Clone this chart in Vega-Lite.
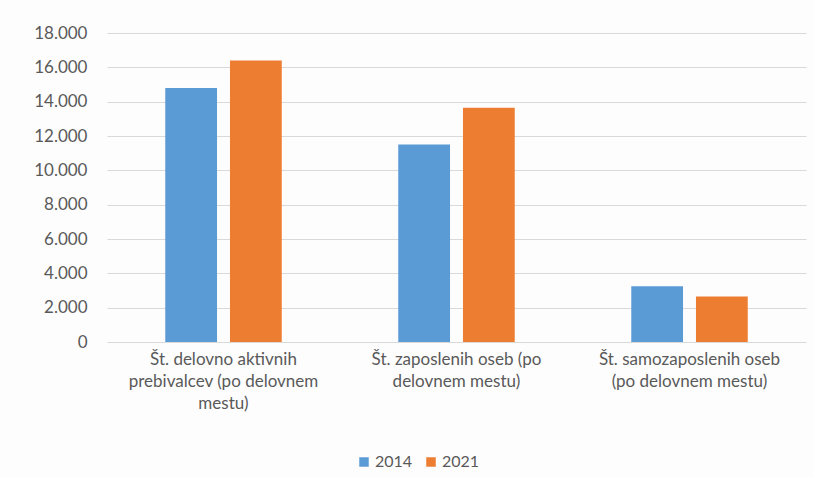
{
  "$schema": "https://vega.github.io/schema/vega-lite/v6.json",
  "autosize": {"type": "none"},
  "padding": {"left": 107, "top": 33, "right": 8, "bottom": 135},
  "width": 699,
  "height": 309,
  "background": "#fdfdfd",
  "config": {
    "font": "Lato",
    "view": {"stroke": null}
  },
  "data": {
    "values": [
      {"kategorija": "Št. delovno aktivnih prebivalcev (po delovnem mestu)", "leto": "2014", "vrednost": 14800},
      {"kategorija": "Št. delovno aktivnih prebivalcev (po delovnem mestu)", "leto": "2021", "vrednost": 16400},
      {"kategorija": "Št. zaposlenih oseb (po delovnem mestu)", "leto": "2014", "vrednost": 11500},
      {"kategorija": "Št. zaposlenih oseb (po delovnem mestu)", "leto": "2021", "vrednost": 13650},
      {"kategorija": "Št. samozaposlenih oseb (po delovnem mestu)", "leto": "2014", "vrednost": 3250},
      {"kategorija": "Št. samozaposlenih oseb (po delovnem mestu)", "leto": "2021", "vrednost": 2650}
    ]
  },
  "mark": {"type": "bar"},
  "encoding": {
    "x": {
      "field": "kategorija",
      "type": "nominal",
      "sort": null,
      "scale": {"paddingInner": 0.5, "paddingOuter": 0.25},
      "axis": {
        "title": null,
        "domain": false,
        "ticks": false,
        "labelAngle": 0,
        "labelPadding": 9,
        "labelFontSize": 17,
        "labelColor": "#595959",
        "labelLineHeight": 22,
        "labelBaseline": "top",
        "labelLimit": 300,
        "labelExpr": "datum.value == 'Št. delovno aktivnih prebivalcev (po delovnem mestu)' ? ['Št. delovno aktivnih', 'prebivalcev (po delovnem', 'mestu)'] : datum.value == 'Št. zaposlenih oseb (po delovnem mestu)' ? ['Št. zaposlenih oseb (po', 'delovnem mestu)'] : ['Št. samozaposlenih oseb', '(po delovnem mestu)']"
      }
    },
    "xOffset": {
      "field": "leto",
      "type": "nominal",
      "scale": {"paddingInner": 0.2, "paddingOuter": 0}
    },
    "y": {
      "field": "vrednost",
      "type": "quantitative",
      "scale": {"domain": [0, 18000], "nice": false},
      "axis": {
        "title": null,
        "domain": false,
        "ticks": false,
        "values": [0, 2000, 4000, 6000, 8000, 10000, 12000, 14000, 16000, 18000],
        "labelExpr": "replace(format(datum.value, ','), ',', '.')",
        "labelPadding": 20,
        "labelFontSize": 17,
        "labelColor": "#595959",
        "gridColor": "#d9d9d9",
        "gridWidth": 1.2
      }
    },
    "color": {
      "field": "leto",
      "type": "nominal",
      "scale": {"domain": ["2014", "2021"], "range": ["#5b9bd5", "#ed7d31"]},
      "legend": {
        "title": null,
        "orient": "none",
        "direction": "horizontal",
        "legendX": 249,
        "legendY": 421,
        "symbolType": "square",
        "symbolSize": 90,
        "symbolStrokeWidth": 0,
        "symbolOpacity": 1,
        "labelFontSize": 16,
        "labelColor": "#595959",
        "labelOffset": 3,
        "columnPadding": 10
      }
    }
  }
}
